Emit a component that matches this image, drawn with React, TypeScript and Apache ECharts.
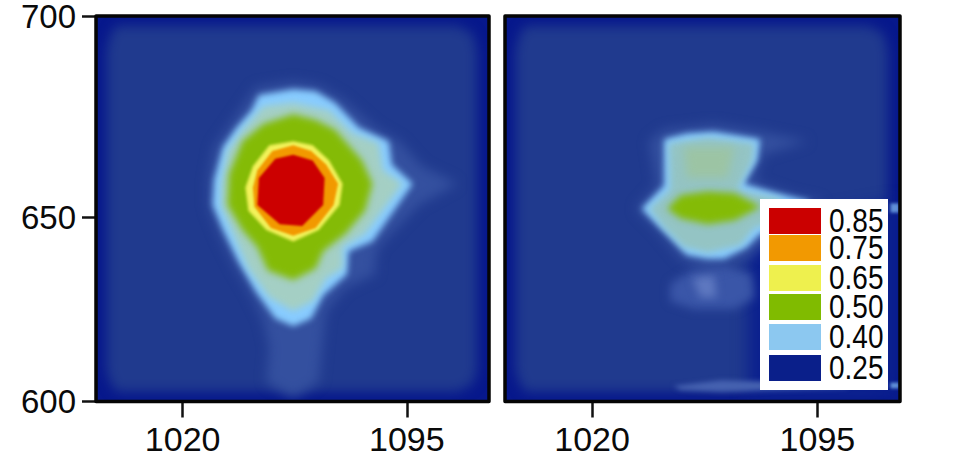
import React, { useEffect, useRef } from "react";
import * as echarts from "echarts";

type Pt = number[];

const xRange = [991, 1122.5];
const yRange = [600, 700];
const xTicks = [1020, 1095];
// The reference's 650 tick sits below the midpoint of its frame, so it is placed where it was drawn.
const yTickPlaces = [600, 647.7, 700];
const yTickLabels = ["600", "650", "700"];

const legendLabels = ["0.85", "0.75", "0.65", "0.50", "0.40", "0.25"];
const legendColors = ["#cb0000", "#f29901", "#eef04e", "#80bb00", "#8cc8f0", "#0a1f8a"];

const interior: Pt[] = [[998,697.5],[1112,697.5],[1117,695.5],[1118.5,691],[1118.5,608],[1117,604.5],[1112,602.5],[998,602.5],[996,604.5],[994.5,608],[994.5,691],[996,695.5]];

const leftFaint: Pt[] = [[1057,683],[1044.5,681.5],[1040,676.5],[1035.5,671.5],[1030.5,666],[1028.5,657.5],[1028.5,650.5],[1032,643.5],[1037,635.5],[1043,627.5],[1047,621],[1049,614],[1048,605],[1057,601],[1065.5,605],[1067,616.5],[1068,623.5],[1074.5,629.5],[1084.5,633],[1084.5,636.5],[1085.5,640],[1099,651],[1112,656.5],[1100,661],[1092.5,667.5],[1084.5,671],[1073.5,678.5],[1065.5,682]];
const leftRing: Pt[] = [[1057,681],[1045.5,679.5],[1043,675.5],[1038,671],[1033.5,666],[1030.5,657.5],[1030,651],[1033.5,644.5],[1038.5,636.5],[1044.5,628.5],[1051,621.5],[1057,619.5],[1063,621.5],[1067,627.5],[1075,633],[1075.5,639],[1083.5,641.5],[1097,656.5],[1090,661.5],[1089,667.5],[1079,671],[1071,677.5],[1064.5,680.5]];
const leftPale: Pt[] = [[1057,677.5],[1047,676.5],[1040,670.5],[1035,665],[1033,656.5],[1033,650.5],[1037.5,642.5],[1042,634.5],[1049,627],[1057,623.5],[1063.5,626],[1068,632],[1073.5,634.5],[1073.5,640],[1081,643.5],[1093.5,656.5],[1087,660],[1085.5,667],[1077,669.5],[1069,675.5]];
const leftGreen: Pt[] = [[1057,674.5],[1047,672],[1040,667.5],[1035.5,659],[1035,651],[1040,644.5],[1045,640],[1048.5,634],[1057,631.5],[1064.5,634.5],[1067,639],[1074.5,643.5],[1081,649.5],[1083.5,656.5],[1080,662.5],[1071,670.5],[1064.5,673]];
const leftYellow: Pt[] = [[1057,667.5],[1049,666.5],[1043.5,661],[1041,655.5],[1042,649.5],[1048,644.5],[1057,641.5],[1065.5,644.5],[1072.5,651],[1073.5,656.5],[1069,662.5],[1063.5,666.5]];
const leftOrange: Pt[] = [[1057,666.5],[1050,665],[1045,660],[1043.5,655.5],[1044,650.5],[1049.5,645],[1057,643],[1064.5,645],[1070.5,651],[1072,656.5],[1068,661.5],[1063,665]];
const leftRed: Pt[] = [[1057,664],[1051,663],[1045.5,658],[1045,651],[1052.5,646],[1060,645.5],[1067,651],[1067.5,658],[1063.5,662.5]];

const rightShade: Pt[] = [[1072,645],[1122,652],[1122,600.5],[1072,600.5]];
const rightFaint: Pt[] = [[1034.5,650],[1041.5,656],[1039,667.5],[1044,670.5],[1060.5,672],[1076,670],[1092,667.5],[1077,664],[1074,657],[1087,653.5],[1096,652],[1096,646],[1077,640.5],[1071.5,637],[1058.5,634],[1049.5,637],[1041.5,644.5]];
const rightRing: Pt[] = [[1036.5,650],[1044,656],[1044,668],[1051.5,669.5],[1060.5,670],[1076,668],[1075,662.5],[1070.5,656.5],[1081.5,654],[1092,652],[1092,647.5],[1076,643.5],[1071.5,640],[1064,637],[1058.5,637],[1051.5,638],[1046,642.5],[1041.5,646]];
const rightPale: Pt[] = [[1039,650],[1046,655],[1045.5,667],[1058.5,668.5],[1074,667],[1073.5,662.5],[1068.5,655],[1083,652.5],[1083,647],[1074,645],[1069.5,640.5],[1058.5,638.5],[1050.5,640],[1044,645]];
const rightBlock: Pt[] = [[1050.5,666],[1067.5,666],[1065,658],[1051.5,658]];
const rightGreen: Pt[] = [[1045,650],[1049.5,653.5],[1058.5,654.5],[1067.5,654],[1076,650.5],[1067.5,647],[1058.5,646],[1049.5,647.5]];
const rightLower: Pt[] = [[1053,634],[1046,630.5],[1046,626],[1054,624],[1067.5,624],[1074,627],[1073,633],[1064,635.5]];
const rightLowerCore: Pt[] = [[1053.5,632],[1056,627],[1061.5,627],[1060.5,633]];
const rightStreak: Pt[] = [[1047,604],[1063,605.5],[1105,604.5],[1105,603.5],[1063,602.5],[1049.5,603]];
const rightSpotUpper: Pt[] = [[1119.3,651.4],[1122.3,651.4],[1122.3,649],[1119.3,649]];
const rightSpotLower: Pt[] = [[1119.3,604.9],[1122.3,604.9],[1122.3,603.4],[1119.3,603.4]];

type Layer = { pts: Pt[]; fill: string; blur: number };
const lay = (pts: Pt[], fill: string, blur: number): Layer => ({ pts, fill, blur });

const leftLayers: Layer[] = [
  lay(interior, "#203a8e", 6),
  lay(leftFaint, "#34509f", 6),
  lay(leftRing, "#88ccff", 3),
  lay(leftPale, "#a4cfc4", 3.5),
  lay(leftGreen, "#84bb06", 3.5),
  lay(leftYellow, "#f2f25a", 1.5),
  lay(leftOrange, "#f29900", 1.2),
  lay(leftRed, "#cc0000", 1),
];
const rightLayers: Layer[] = [
  lay(interior, "#203a8e", 6),
  lay(rightShade, "#0a1f8e", 8),
  lay(rightLower, "#3a56a8", 5),
  lay(rightLowerCore, "#5e78c0", 4),
  lay(rightStreak, "#4662b0", 2.5),
  lay(rightSpotUpper, "#6090d8", 1.5),
  lay(rightSpotLower, "#6090d8", 1.5),
  lay(rightFaint, "#34509f", 6),
  lay(rightRing, "#88ccff", 3),
  lay(rightPale, "#94c4c4", 3.5),
  lay(rightBlock, "#9cc4a4", 5),
  lay(rightGreen, "#84bb06", 3.5),
];

// The reference's contours are soft-edged: each band's polygon is blurred by its fill.
const blurCss = [...leftLayers, ...rightLayers]
  .map((l) => `svg path[fill="${l.fill}"]{filter:blur(${l.blur}px)}`)
  .join("\n");

const contourSeries = (layers: Layer[], axis: number) => ({
  type: "custom",
  coordinateSystem: "cartesian2d",
  xAxisIndex: axis,
  yAxisIndex: axis,
  silent: true,
  z: 2,
  clip: true,
  data: layers.map((_, i) => [i]),
  renderItem: (params: any, api: any) => {
    const layer = layers[params.dataIndex];
    return {
      type: "polygon",
      shape: { points: layer.pts.map((p) => api.coord(p)) },
      style: { fill: layer.fill },
    };
  },
});

const frameSeries = (axis: number) => ({
  type: "custom",
  coordinateSystem: "cartesian2d",
  xAxisIndex: axis,
  yAxisIndex: axis,
  silent: true,
  z: 6,
  clip: false,
  data: [[0]],
  renderItem: (_: any, api: any) => ({
    type: "polygon",
    shape: {
      points: [
        [xRange[0], yRange[1]],
        [xRange[1], yRange[1]],
        [xRange[1], yRange[0]],
        [xRange[0], yRange[0]],
      ].map((p) => api.coord(p)),
    },
    style: { fill: "none", stroke: "#050505", lineWidth: 3.5, lineJoin: "round" },
  }),
});

const FONT = "Liberation Sans";

const xAxisOf = (grid: number) => ({
  type: "value",
  gridIndex: grid,
  min: xRange[0],
  max: xRange[1],
  axisLine: { show: false },
  splitLine: { show: false },
  axisTick: { show: true, length: 16, customValues: xTicks, lineStyle: { color: "#111", width: 2.5 } },
  axisLabel: { show: true, customValues: xTicks, margin: 20, color: "#0a0a0a", fontSize: 34, fontFamily: FONT, formatter: (v: number) => String(v) },
});

const yAxisOf = (grid: number, labelled: boolean) => ({
  type: "value",
  gridIndex: grid,
  min: yRange[0],
  max: yRange[1],
  axisLine: { show: false },
  splitLine: { show: false },
  axisTick: { show: labelled, length: 14, customValues: yTickPlaces, lineStyle: { color: "#111", width: 2.5 } },
  axisLabel: {
    show: labelled,
    customValues: yTickPlaces,
    margin: 20,
    color: "#0a0a0a",
    fontSize: 33,
    lineHeight: 28,
    padding: [0, 0, 4, 0],
    fontFamily: FONT,
    formatter: (v: number) => yTickLabels[yTickPlaces.indexOf(v)] ?? "",
  },
});

const swatchTops = [208, 235, 265, 294, 324, 355];
const legendGraphic = {
  type: "group",
  z: 100,
  children: [
    { type: "rect", shape: { x: 760, y: 199, width: 128, height: 191 }, style: { fill: "#ffffff" }, z: 100 },
    ...legendLabels.flatMap((label, i) => [
      {
        type: "rect",
        shape: { x: 769, y: swatchTops[i], width: 52, height: 26 },
        style: { fill: legendColors[i] },
        z: 101,
      },
      {
        type: "text",
        x: 829,
        y: swatchTops[i] + 13,
        scaleY: 1.2,
        style: { text: label, fill: "#050505", fontSize: 28, lineHeight: 23, fontFamily: FONT, verticalAlign: "middle" },
        z: 101,
      },
    ]),
  ],
};

export default function App() {
  const ref = useRef<HTMLDivElement | null>(null);
  useEffect(() => {
    const chart = echarts.init(ref.current!, null, { renderer: "svg" });
    chart.setOption({
      animation: false,
      backgroundColor: "#ffffff",
      grid: [
        { left: 96, top: 16, width: 393, height: 385.5, show: true, backgroundColor: "#07188c", borderWidth: 0, outerBoundsMode: "none" },
        { left: 505, top: 16, width: 395, height: 385.5, show: true, backgroundColor: "#07188c", borderWidth: 0, outerBoundsMode: "none" },
      ],
      xAxis: [xAxisOf(0), xAxisOf(1)],
      yAxis: [yAxisOf(0, true), yAxisOf(1, false)],
      series: [contourSeries(leftLayers, 0), contourSeries(rightLayers, 1), frameSeries(0), frameSeries(1)],
      graphic: [legendGraphic],
    });
    return () => chart.dispose();
  }, []);
  return (
    <>
      <style>{blurCss}</style>
      <div ref={ref} style={{ position: "fixed", left: 0, top: 0, width: 960, height: 468 }} />
    </>
  );
}
